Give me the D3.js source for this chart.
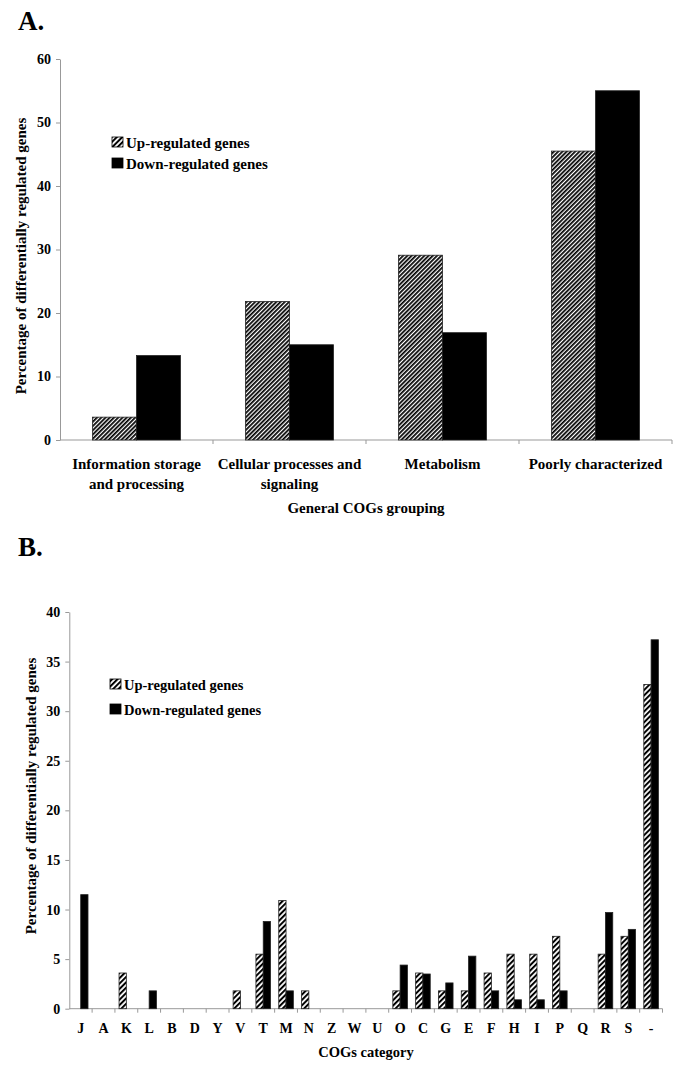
<!DOCTYPE html>
<html><head><meta charset="utf-8">
<script src="https://cdn.jsdelivr.net/npm/d3@7"></script>
<style>body{margin:0;background:#fff}svg{display:block}text{font-family:"Liberation Serif","Times New Roman",serif;font-weight:bold;fill:#000}</style>
</head><body>
<script>
// Panel A data
const groupsA = ["Information storage|and processing","Cellular processes and|signaling","Metabolism","Poorly characterized"];
const upA = [3.6, 21.8, 29.1, 45.5];
const downA = [13.3, 15.0, 16.9, 55.0];
const ticksA = [0,10,20,30,40,50,60];
// Panel B data
const catsB = ["J","A","K","L","B","D","Y","V","T","M","N","Z","W","U","O","C","G","E","F","H","I","P","Q","R","S","-"];
const upB   = [0,0,3.6,0,0,0,0,1.8,5.5,10.9,1.8,0,0,0,1.8,3.6,1.8,1.8,3.6,5.5,5.5,7.3,0,5.5,7.3,32.7];
const downB = [11.5,0,0,1.8,0,0,0,0,8.8,1.8,0,0,0,0,4.4,3.5,2.6,5.3,1.8,0.9,0.9,1.8,0,9.7,8.0,37.2];
const ticksB = [0,5,10,15,20,25,30,35,40];
const legendLabels = ["Up-regulated genes","Down-regulated genes"];

const W=685,H=1084;
const svg=d3.select("body").append("svg").attr("width",W).attr("height",H);
const defs=svg.append("defs");
function hatch(id,p,lw){
  const pt=defs.append("pattern").attr("id",id).attr("patternUnits","userSpaceOnUse")
    .attr("width",p).attr("height",p).attr("patternTransform","rotate(45)");
  pt.append("rect").attr("width",p).attr("height",p).attr("fill","#fff");
  pt.append("rect").attr("width",lw).attr("height",p).attr("fill","#000");
}
hatch("hA",3.0,1.75);
hatch("hB",3.8,2.0);

const axisCol="#999";

function panel(cfg){
  const g=svg.append("g");
  const x=d3.scaleBand().domain(cfg.cats.map((d,i)=>i)).range(cfg.xr).padding(0);
  const y=d3.scaleLinear().domain([0,cfg.ymax]).range(cfg.yr);
  const ya=g.append("g").attr("transform",`translate(${cfg.xr[0]},0)`)
    .call(d3.axisLeft(y).tickValues(cfg.ticks).tickSize(4).tickPadding(5).tickSizeOuter(0));
  ya.select(".domain").attr("stroke",axisCol);
  ya.selectAll(".tick line").attr("stroke",axisCol);
  ya.selectAll(".tick text").style("font-size",cfg.tfs+"px").style("font-family","Liberation Serif").style("font-weight","bold").attr("fill","#000");
  g.append("line").attr("x1",cfg.xr[0]).attr("x2",cfg.xr[1]).attr("y1",y(0)).attr("y2",y(0)).attr("stroke",axisCol);
  const bounds=cfg.cats.map((d,i)=>x(i)).concat([cfg.xr[1]]);
  g.selectAll(".bt").data(bounds.slice(1)).enter().append("line")
    .attr("x1",d=>d).attr("x2",d=>d).attr("y1",y(0)).attr("y2",y(0)+4).attr("stroke",axisCol);
  const bw=cfg.bw;
  const cx=i=>x(i)+x.bandwidth()/2;
  const ups=cfg.up.map((v,i)=>({v,i})).filter(d=>d.v>0);
  const downs=cfg.down.map((v,i)=>({v,i})).filter(d=>d.v>0);
  g.selectAll(".up").data(ups).enter().append("rect")
    .attr("x",d=>cx(d.i)-bw).attr("width",bw).attr("y",d=>y(d.v)).attr("height",d=>y(0)-y(d.v))
    .attr("fill",`url(#${cfg.pat})`).attr("stroke","#222").attr("stroke-width",0.8);
  g.selectAll(".dn").data(downs).enter().append("rect")
    .attr("x",d=>cx(d.i)).attr("width",bw).attr("y",d=>y(d.v)).attr("height",d=>y(0)-y(d.v))
    .attr("fill","#000").attr("stroke","#222").attr("stroke-width",0.8);
  cfg.cats.forEach((c,i)=>{
    c.split("|").forEach((l,k)=>{
      g.append("text").attr("x",cx(i)).attr("y",cfg.cy+k*cfg.clh).attr("text-anchor","middle")
        .style("font-size",cfg.cfs+"px").text(l);
    });
  });
  g.append("text").attr("x",cfg.xtx).attr("y",cfg.xty).attr("text-anchor","middle").style("font-size",cfg.afs+"px").text(cfg.xtitle);
  g.append("text").attr("transform",`translate(${cfg.ytx},${cfg.yty}) rotate(-90)`).attr("text-anchor","middle")
    .style("font-size",cfg.yfs+"px").text("Percentage of differentially regulated genes");
  const lg=g.append("g");
  legendLabels.forEach((t,k)=>{
    const yy=cfg.ly+k*cfg.llh;
    lg.append("rect").attr("x",cfg.lx).attr("y",yy-cfg.ls+1).attr("width",cfg.ls).attr("height",cfg.ls-1)
      .attr("fill",k==0?"url(#hB)":"#000").attr("stroke","#000").attr("stroke-width",0.8);
    lg.append("text").attr("x",cfg.lx+cfg.ls+3).attr("y",yy+1).style("font-size",cfg.lfs+"px").text(t);
  });
  g.append("text").attr("x",18).attr("y",cfg.py).style("font-size","27px").text(cfg.plabel);
}

panel({cats:groupsA,up:upA,down:downA,ticks:ticksA,ymax:60,xr:[60,672],yr:[440,59],bw:44,pat:"hA",
  tfs:14,cfs:15,cy:469,clh:20,afs:15,xtitle:"General COGs grouping",xtx:366,xty:513,ytx:26,yty:256,yfs:15,
  lx:112,ly:147,llh:21,ls:11,lfs:15,plabel:"A.",py:30});
panel({cats:catsB,up:upB,down:downB,ticks:ticksB,ymax:40,xr:[69.3,662.5],yr:[1008.7,612],bw:7.3,pat:"hB",
  tfs:14,cfs:14,cy:1033,clh:18,afs:14.5,xtitle:"COGs category",xtx:366,xty:1057,ytx:36,yty:796,yfs:15,
  lx:110,ly:689,llh:25,ls:11,lfs:14.5,plabel:"B.",py:556});
</script>
</body></html>
